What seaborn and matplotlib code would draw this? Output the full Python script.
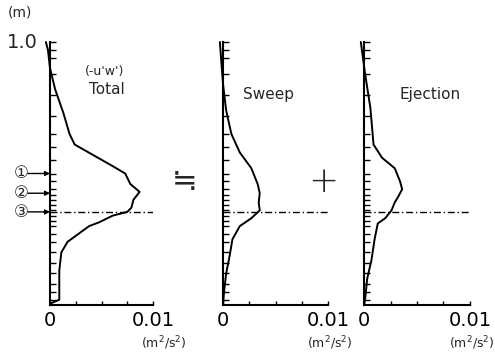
import matplotlib
matplotlib.use("Agg")
import matplotlib.pyplot as plt
import seaborn as sns
import numpy as np

# ---- data ----
total_h = [1.0, 0.97, 0.90, 0.82, 0.73, 0.65, 0.61, 0.57, 0.53, 0.50, 0.46, 0.43, 0.40,
           0.37, 0.354, 0.34, 0.315, 0.30, 0.24, 0.20, 0.13, 0.02, 0.005]
total_v = [-0.0004, -0.0002, 0.0, 0.0005, 0.0013, 0.0019, 0.0024, 0.0042, 0.0060, 0.0073,
           0.0078, 0.0087, 0.0081, 0.0079, 0.0075, 0.0061, 0.0048, 0.0038, 0.0017, 0.0011,
           0.0009, 0.0009, 0.0]

sweep_h = [1.0, 0.84, 0.74, 0.65, 0.58, 0.52, 0.46, 0.425, 0.39, 0.36, 0.33, 0.30, 0.25,
           0.18, 0.12, 0.05, 0.0]
sweep_v = [-0.0003, 0.0, 0.0003, 0.0008, 0.0016, 0.0027, 0.0033, 0.0035, 0.0034, 0.0035,
           0.0027, 0.0016, 0.0009, 0.0006, 0.0003, 0.0001, 0.0]

eject_h = [1.0, 0.88, 0.75, 0.61, 0.56, 0.52, 0.47, 0.44, 0.41, 0.39, 0.36, 0.33, 0.31,
           0.25, 0.17, 0.10, 0.02, 0.0]
eject_v = [-0.0003, 0.0001, 0.0006, 0.0009, 0.0017, 0.0029, 0.0034, 0.0036, 0.0032, 0.0029,
           0.0026, 0.0020, 0.0013, 0.0010, 0.0007, 0.0003, 0.0001, 0.0]

panel_titles = ["Total", "Sweep", "Ejection"]
x_ticks = [0, 0.0025, 0.005, 0.0075, 0.01]
x_ticklabels = ["0", "", "", "", "0.01"]
meas_heights = [0.02, 0.05, 0.08, 0.12, 0.16, 0.20, 0.24, 0.27, 0.30, 0.32, 0.34, 0.36,
                0.38, 0.40, 0.42, 0.44, 0.47, 0.50, 0.55, 0.60, 0.65, 0.72, 0.80, 0.88,
                0.94, 0.97, 1.0]
ref_height = 0.354
marker_heights = [0.50, 0.425, 0.354]
marker_labels = ["①", "②", "③"]

sns.set_style("white")
plt.rcParams['font.family'] = ['DejaVu Sans']

W, H = 495, 360
fig = plt.figure(figsize=(W / 100, H / 100), dpi=100)

def fx(px):
    return px / W

def fy(py):
    return 1 - py / H

bottom_px, top_px = 305, 42
lefts = [50, 223, 364]
widths = [103, 105, 106]
series = [(total_v, total_h), (sweep_v, sweep_h), (eject_v, eject_h)]

axes = []
for left, wid, (v, h) in zip(lefts, widths, series):
    ax = fig.add_axes([fx(left), fy(bottom_px), wid / W, (bottom_px - top_px) / H])
    sns.lineplot(x=v, y=h, sort=False, estimator=None, color="black", lw=1.4, ax=ax)
    for ln in ax.lines:
        ln.set_clip_on(False)
    ax.axhline(ref_height, color="black", lw=1.0, ls=(0, (5, 2, 1, 2)))
    ax.set_xlim(0, 0.01)
    ax.set_ylim(0, 1.0)
    for s in ["top", "right"]:
        ax.spines[s].set_visible(False)
    for s in ["left", "bottom"]:
        ax.spines[s].set_linewidth(1.5)
        ax.spines[s].set_color("black")
    ax.set_xticks(x_ticks)
    ax.set_xticklabels(x_ticklabels, fontsize=14)
    ax.tick_params(axis="x", bottom=True, direction="in", length=3, width=1.0, pad=4,
                   colors="black")
    ax.set_yticks(meas_heights)
    ax.set_yticklabels([])
    ax.tick_params(axis="y", left=True, direction="in", length=4.5, width=1.0, colors="black")
    ax.set_xlabel("")
    ax.set_ylabel("")
    ax.patch.set_alpha(0)
    axes.append(ax)

# unit labels
fig.text(fx(20), fy(12), "(m)", fontsize=10, ha="center", va="center")
fig.text(fx(22), fy(43), "1.0", fontsize=14, ha="center", va="center")
for x0 in [162, 328, 470]:
    fig.text(fx(x0 + 2), fy(343), "(m$^2$/s$^2$)", fontsize=9, ha="center", va="center")

# panel annotations
fig.text(fx(105), fy(72), "(-u'w')", fontsize=9, ha="center", va="center")
fig.text(fx(107), fy(90), panel_titles[0], fontsize=11, ha="center", va="center")
fig.text(fx(268), fy(95), panel_titles[1], fontsize=11, ha="center", va="center")
fig.text(fx(430), fy(95), panel_titles[2], fontsize=11, ha="center", va="center")
fig.text(fx(185), fy(182), "≒", fontsize=22, ha="center", va="center",
         family=["Noto Sans CJK JP", "DejaVu Sans"])
fig.text(fx(323), fy(182), "+", fontsize=26, ha="center", va="center", fontweight="light")

# circled level markers with arrows
ax0 = axes[0]
for hh, lab in zip(marker_heights, marker_labels):
    ax0.annotate("", xy=(0, hh), xycoords="data",
                 xytext=(-16, 0), textcoords="offset points",
                 arrowprops=dict(arrowstyle="-|>", color="black", lw=1.0,
                                 shrinkA=0, shrinkB=0, mutation_scale=7),
                 annotation_clip=False)
    ax0.annotate(lab, xy=(0, hh), xycoords="data", xytext=(-21, 0),
                 textcoords="offset points", ha="center", va="center",
                 fontsize=12, annotation_clip=False)

fig.savefig("out.png", dpi=100)
